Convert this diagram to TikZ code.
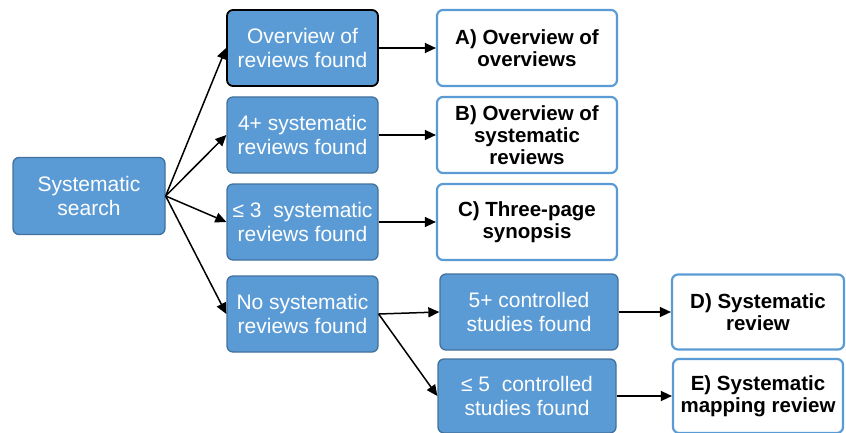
\documentclass[tikz,border=0pt]{standalone}
\usepackage{fontspec}
\setmainfont{Liberation Sans}
\usetikzlibrary{arrows.meta}
\definecolor{boxblue}{HTML}{5B9BD5}
\definecolor{boxedge}{HTML}{41719C}
\definecolor{outedge}{HTML}{5B9BD5}
\tikzset{
  bluebox/.style={draw=boxedge, fill=boxblue, line width=1.3pt, rounded corners=6pt,
    text=white, align=center, inner sep=0pt, font=\fontsize{21}{23.5}\selectfont},
  outbox/.style={draw=outedge, fill=white, line width=2.2pt, rounded corners=6pt,
    text=black, align=center, inner sep=0pt, font=\fontsize{20.5}{22}\selectfont\bfseries},
  conn/.style={line width=1.5pt, -{Triangle[length=11pt,width=10pt]}}
}
\begin{document}
\begin{tikzpicture}[x=1pt,y=1pt]
\useasboundingbox (0,0) rectangle (846,432);
\node[bluebox, minimum width=152pt, minimum height=77pt] (search) at (89,236) {Systematic\\search};
\node[bluebox, draw=black, line width=1.8pt, minimum width=151pt, minimum height=76pt] (ov) at (302.5,384) {Overview of\\reviews found};
\node[bluebox, minimum width=151pt, minimum height=76pt] (four) at (302.5,297) {4+ systematic\\reviews found};
\node[bluebox, minimum width=151pt, minimum height=76pt] (three) at (302.5,210) {≤ 3\ \ systematic\\reviews found};
\node[bluebox, minimum width=151pt, minimum height=76pt] (nosys) at (302.5,118) {No systematic\\reviews found};
\node[outbox, minimum width=180pt, minimum height=76pt] (A) at (527,384) {A) Overview of\\overviews};
\node[outbox, minimum width=180pt, minimum height=76pt] (B) at (527,297) {B) Overview of\\systematic\\reviews};
\node[outbox, minimum width=180pt, minimum height=76pt] (C) at (527,210) {C) Three-page\\synopsis};
\node[bluebox, minimum width=178pt, minimum height=76pt] (fivep) at (529,120) {5+ controlled\\studies found};
\node[bluebox, minimum width=178pt, minimum height=74pt] (fivem) at (527,36) {≤ 5\ \ controlled\\studies found};
\node[outbox, minimum width=172pt, minimum height=75pt] (D) at (758,120) {D) Systematic\\review};
\node[outbox, minimum width=170pt, minimum height=74pt] (E) at (758,36) {E) Systematic\\mapping review};
\draw[conn] (search.east) -- (ov.west);
\draw[conn] (search.east) -- (four.west);
\draw[conn] (search.east) -- (three.west);
\draw[conn] (search.east) -- (nosys.west);
\draw[conn] (ov.east) -- (A.west);
\draw[conn] (four.east) -- (B.west);
\draw[conn] (three.east) -- (C.west);
\draw[conn] (nosys.east) -- (fivep.west);
\draw[conn] (nosys.east) -- (fivem.west);
\draw[conn] (fivep.east) -- (D.west);
\draw[conn] (fivem.east) -- (E.west);
\end{tikzpicture}
\end{document}
